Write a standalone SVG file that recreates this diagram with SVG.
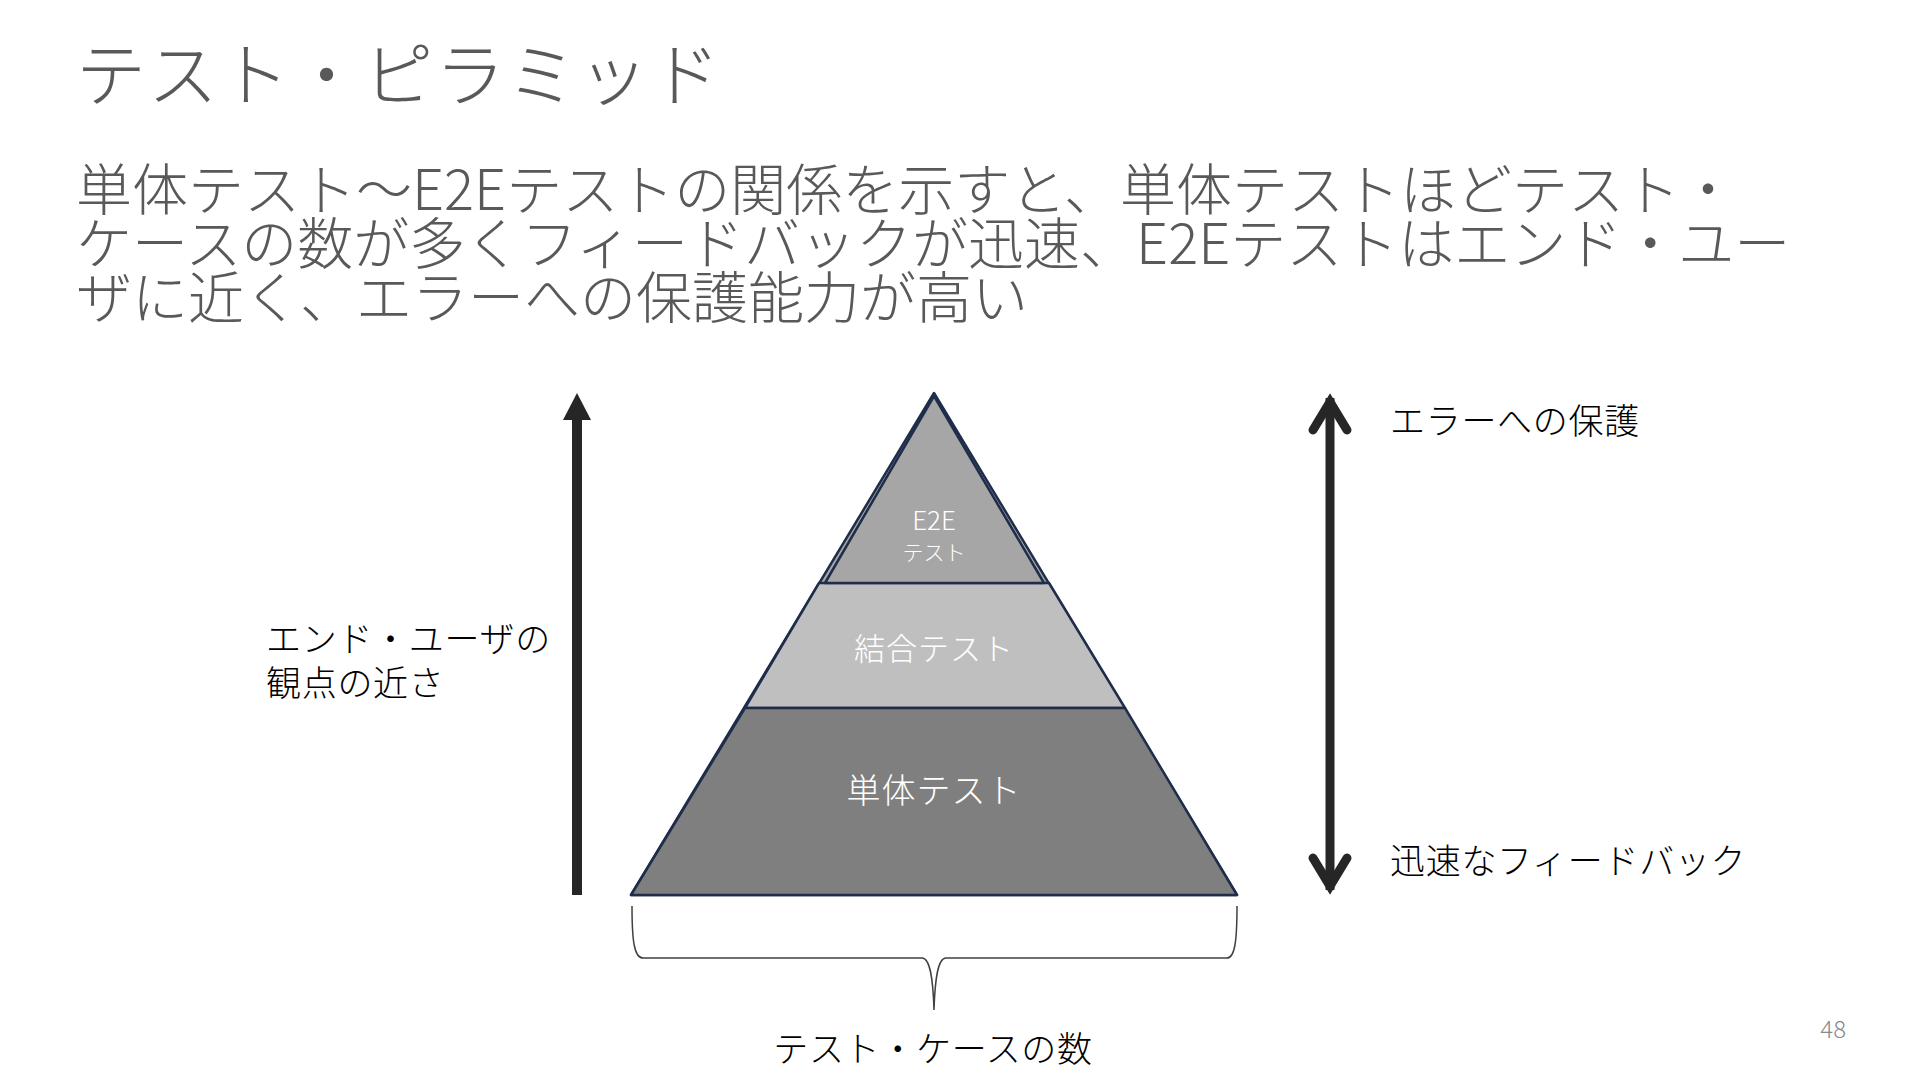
<svg xmlns="http://www.w3.org/2000/svg" width="1920" height="1080" viewBox="0 0 1920 1080">
  <style>
    text { font-family: 'Noto Sans CJK JP', 'Noto Sans', sans-serif; font-weight: 300; }
    .title { font-size: 70px; fill: #595959; letter-spacing: 1.8px; }
    .sub { font-size: 56px; fill: #595959; }
    .lbl { font-size: 35px; fill: #000000; letter-spacing: 0.7px; }
    .in { fill: #FFFFFF; text-anchor: middle; }
    .edge { stroke: #1F2D4A; stroke-width: 2.5; stroke-linejoin: round; }
    .brace { fill: none; stroke: #404040; stroke-width: 1.5; }
    .arrow { stroke: #262626; fill: none; }
    .pg { font-size: 24px; fill: #8A8A8A; }
  </style>
  <rect width="1920" height="1080" fill="#FFFFFF"/>

  <g id="title">
    <text class="title" x="76" y="101">テスト・ピラミッド</text>
  </g>

  <g id="subtitle">
    <text class="sub" x="76" y="210">単体テスト～E2Eテストの関係を示すと、単体テストほどテスト・</text>
    <text class="sub" x="76" y="264">ケースの数が多くフィードバックが迅速、E2Eテストはエンド・ユー</text>
    <text class="sub" x="76" y="318">ザに近く、エラーへの保護能力が高い</text>
  </g>

  <g id="pyramid">
    <polygon id="outer" class="edge" points="934,393 1237,895 631,895" fill="#A6A6A6"/>
    <g id="integration-test">
      <polygon class="edge" points="819,583 1049,583 1125,708 745,708" fill="#BFBFBF"/>
      <text class="in" x="934" y="660" font-size="31" letter-spacing="1">結合テスト</text>
    </g>
    <g id="unit-test">
      <polygon class="edge" points="745,708 1125,708 1237,895 631,895" fill="#7F7F7F"/>
      <text class="in" x="934" y="803" font-size="34" letter-spacing="1">単体テスト</text>
    </g>
    <g id="e2e-test">
      <polygon class="edge" points="934,396 1044,583 825,583" fill="#A6A6A6"/>
      <text class="in" x="934" y="530" font-size="26">E2E</text>
      <text class="in" x="934" y="560" font-size="21">テスト</text>
    </g>
  </g>

  <g id="connectors">
    <g id="user-arrow">
      <line class="arrow" x1="577" y1="895" x2="577" y2="418" stroke-width="10"/>
      <polygon points="577,393 591,420 563,420" fill="#262626"/>
    </g>
    <g id="double-arrow">
      <line class="arrow" x1="1330" y1="398" x2="1330" y2="890" stroke-width="9"/>
      <polyline class="arrow" points="1313,430 1330,402 1347,430" stroke-width="9" stroke-linecap="round" stroke-linejoin="miter"/>
      <polyline class="arrow" points="1313,858 1330,886 1347,858" stroke-width="9" stroke-linecap="round" stroke-linejoin="miter"/>
    </g>
    <path id="brace" class="brace" d="M632,906 C632,940 634,958 643,958 L922,958 C930,958 933,978 934,1010 C935,978 938,958 946,958 L1227,958 C1235,958 1237,940 1237,906"/>
  </g>

  <g id="label-user">
    <text class="lbl" x="266" y="652">エンド・ユーザの</text>
    <text class="lbl" x="266" y="696">観点の近さ</text>
  </g>
  <g id="label-protect">
    <text class="lbl" x="1390" y="434">エラーへの保護</text>
  </g>
  <g id="label-feedback">
    <text class="lbl" x="1390" y="874">迅速なフィードバック</text>
  </g>
  <g id="label-count">
    <text class="lbl" x="933" y="1062" text-anchor="middle">テスト・ケースの数</text>
  </g>
  <g id="page-number">
    <text class="pg" x="1846" y="1038" text-anchor="end">48</text>
  </g>
</svg>
